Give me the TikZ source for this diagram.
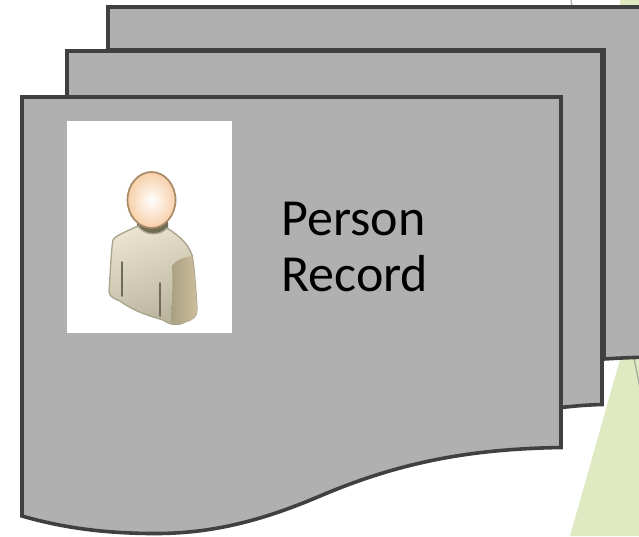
\documentclass[tikz,border=0pt]{standalone}
\usepackage{fontspec}
\setmainfont{Carlito}
\definecolor{sheet}{HTML}{B0B0B0}
\definecolor{edge}{HTML}{404040}
\definecolor{tri}{HTML}{DFEAC2}
\definecolor{bodytop}{HTML}{E9E2CF}
\definecolor{bodybot}{HTML}{B9B29B}
\definecolor{bodyedge}{HTML}{A9A48C}
\definecolor{sleevea}{HTML}{A99F82}
\definecolor{sleeveb}{HTML}{CDBE9C}
\definecolor{neck}{HTML}{6F6B55}
\definecolor{foldline}{HTML}{6E6B58}
\definecolor{headout}{HTML}{F7CFA8}
\definecolor{headedge}{HTML}{A98A68}
\tikzset{
  sheetbox/.style={fill=sheet,draw=edge,line width=2.7pt,line join=miter},
  label/.style={font=\fontsize{39}{44}\selectfont,align=left,anchor=west,inner sep=0pt,text=black},
  fold/.style={color=foldline,line width=1.2pt,line cap=round},
}
\begin{document}
\begin{tikzpicture}[x=0.75pt,y=-0.75pt]
\useasboundingbox (0,0) rectangle (639,536);
\clip (0,0) rectangle (639,536);
\fill[white] (0,0) rectangle (639,536);
% background triangle
\fill[tri] (621,356) -- (570,536) -- (639,536) -- (639,350) -- cycle;
\fill[tri] (620,0) rectangle (639,6);
\draw[color=gray!60,line width=1pt] (571,0) -- (572,6);
\draw[color=gray!60!tri,line width=1pt] (634,358) -- (640,388);
% sheets
\draw[sheetbox] (108,7) -- (660,7) -- (660,357) .. controls (640,357) and (620,358) .. (604,359) -- (604,50) -- (108,50) -- cycle;
\draw[sheetbox] (67,51) -- (602,51) -- (602,404.5) .. controls (585,405) and (575,406) .. (561,407.5) -- (561,97) -- (67,97) -- cycle;
\draw[sheetbox] (22,97) -- (561,97) -- (561,447.5)
  .. controls (470,449) and (400,462) .. (320,496)
  .. controls (250,526) and (200,534) .. (150,533.5)
  .. controls (100,533) and (60,527) .. (22,516) -- cycle;
% person picture
\fill[white] (67,121) rectangle (232,333);
% neck
\fill[neck] (137,222) -- (137,231) -- (146,235) -- (160,235) -- (168,230) -- (168,222) -- cycle;
% body
\shade[top color=bodytop,bottom color=bodybot,shading angle=20,draw=bodyedge,line width=1pt]
  (138,226) .. controls (125,232) and (115,236) .. (113,240)
  .. controls (111,250) and (110,280) .. (109,292)
  .. controls (110,298) and (116,299) .. (120,301)
  .. controls (135,312) and (150,316) .. (163,320)
  .. controls (170,325) and (178,326) .. (185,322)
  .. controls (192,320) and (197,317) .. (197,310)
  .. controls (196,290) and (194,265) .. (192,255)
  .. controls (188,243) and (178,235) .. (167,228)
  .. controls (160,236) and (145,236) .. (138,226) -- cycle;
% sleeve
\shade[left color=sleevea,right color=sleeveb,draw=none]
  (172,266) .. controls (178,258) and (186,257) .. (192,256)
  .. controls (194,270) and (196,290) .. (197,310)
  .. controls (197,317) and (192,320) .. (185,322)
  .. controls (178,326) and (172,324) .. (171,322)
  .. controls (172,300) and (173,285) .. (172,266) -- cycle;
\draw[fold] (122,262) -- (122,296);
\draw[fold] (160,283) -- (160,316);
% head
\shade[inner color=white,outer color=headout,draw=headedge,line width=1.3pt] (151.5,200) ellipse (24 and 28);
% text
\node[label] (rec) at (281,247) {Person\\[-1.5pt]Record};
\end{tikzpicture}
\end{document}
